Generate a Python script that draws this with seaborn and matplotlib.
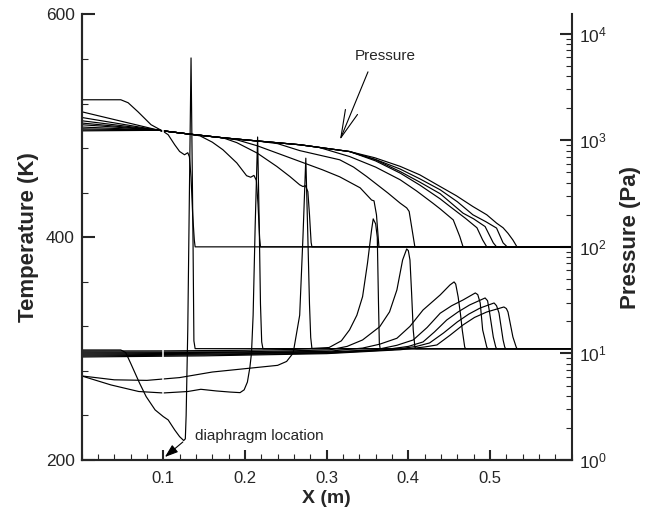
import matplotlib
matplotlib.use("Agg")
import matplotlib.pyplot as plt
import pandas as pd
import seaborn as sns
from matplotlib.ticker import (FixedLocator, MultipleLocator, LogLocator, NullFormatter,
                               LogFormatterSciNotation, FormatStrFormatter)

sns.set_style("ticks")
plt.rcParams["font.family"] = ["Liberation Sans", "DejaVu Sans"]
plt.rcParams["mathtext.fontset"] = "custom"
plt.rcParams["mathtext.rm"] = "Liberation Sans"
plt.rcParams["mathtext.it"] = "Liberation Sans:italic"
plt.rcParams["mathtext.bf"] = "Liberation Sans:bold"

# ---- temperature profiles, x in m, T in K (one per output time) ----
t1_x = [0.000, 0.048, 0.054, 0.060, 0.071, 0.079, 0.090, 0.100, 0.106, 0.114, 0.120, 0.125, 0.127, 0.128, 0.130, 0.132, 0.134, 0.1365, 0.1375, 0.139, 0.600]
t1_T = [298.8, 298.8, 296.5, 287.0, 269.0, 257.0, 245.0, 239.0, 236.0, 227.0, 221.0, 217.5, 219.0, 240.0, 317.0, 440.0, 561.0, 391.0, 307.0, 300.0, 300.0]

t2_x = [0.000, 0.036, 0.070, 0.100, 0.130, 0.146, 0.165, 0.182, 0.194, 0.199, 0.203, 0.206, 0.208, 0.210, 0.2125, 0.2155, 0.2175, 0.219, 0.2205, 0.222, 0.600]
t2_T = [275.5, 267.4, 261.5, 260.2, 261.5, 263.5, 262.0, 261.0, 260.5, 263.0, 270.0, 283.0, 296.0, 330.0, 410.0, 490.0, 410.0, 340.0, 306.0, 300.0, 300.0]

t3_x = [0.000, 0.040, 0.080, 0.120, 0.160, 0.200, 0.240, 0.251, 0.259, 0.267, 0.271, 0.2745, 0.277, 0.279, 0.2805, 0.282, 0.600]
t3_T = [275.5, 272.0, 271.5, 274.0, 279.0, 282.0, 285.0, 288.5, 296.0, 330.0, 400.0, 471.0, 400.0, 340.0, 310.0, 300.0, 300.0]

t4_x = [0.000, 0.100, 0.200, 0.260, 0.303, 0.318, 0.328, 0.337, 0.344, 0.350, 0.355, 0.357, 0.360, 0.362, 0.3635, 0.3645, 0.3655, 0.600]
t4_T = [297.9, 298.0, 298.5, 299.3, 301.0, 307.0, 316.8, 330.0, 346.7, 376.7, 406.6, 416.5, 412.0, 400.0, 340.0, 305.0, 300.0, 300.0]

t5_x = [0.000, 0.100, 0.200, 0.303, 0.325, 0.344, 0.365, 0.377, 0.386, 0.393, 0.398, 0.400, 0.402, 0.404, 0.406, 0.408, 0.409, 0.600]
t5_T = [297.0, 297.0, 297.2, 298.8, 302.0, 307.8, 319.7, 333.0, 352.7, 379.6, 389.5, 388.0, 379.6, 350.0, 316.8, 301.5, 300.0, 300.0]

t6_x = [0.000, 0.150, 0.300, 0.344, 0.365, 0.386, 0.402, 0.418, 0.439, 0.451, 0.456, 0.458, 0.461, 0.464, 0.466, 0.469, 0.470, 0.600]
t6_T = [296.1, 296.5, 297.5, 300.5, 304.0, 309.3, 320.0, 334.7, 348.2, 357.2, 359.9, 358.0, 346.4, 330.0, 316.8, 301.5, 300.0, 300.0]

t7_x = [0.000, 0.150, 0.300, 0.360, 0.386, 0.406, 0.423, 0.439, 0.453, 0.467, 0.482, 0.485, 0.488, 0.491, 0.496, 0.497, 0.600]
t7_T = [295.2, 295.8, 297.0, 299.0, 303.0, 307.8, 319.0, 331.8, 338.5, 343.7, 350.0, 348.5, 341.0, 316.8, 301.5, 300.0, 300.0]

t8_x = [0.000, 0.150, 0.300, 0.370, 0.400, 0.418, 0.432, 0.447, 0.461, 0.475, 0.494, 0.497, 0.499, 0.504, 0.507, 0.508, 0.600]
t8_T = [294.3, 295.0, 296.5, 299.0, 302.0, 306.0, 315.0, 325.7, 333.0, 339.2, 345.5, 343.0, 334.7, 310.5, 301.5, 300.0, 300.0]

t9_x = [0.000, 0.150, 0.300, 0.380, 0.410, 0.426, 0.443, 0.460, 0.474, 0.488, 0.505, 0.508, 0.511, 0.516, 0.518, 0.519, 0.600]
t9_T = [293.4, 294.3, 296.0, 299.0, 302.0, 305.1, 314.0, 324.0, 331.0, 336.5, 341.0, 338.5, 332.0, 307.8, 301.5, 300.0, 300.0]

t10_x = [0.000, 0.150, 0.300, 0.390, 0.420, 0.435, 0.451, 0.467, 0.481, 0.496, 0.517, 0.520, 0.522, 0.528, 0.532, 0.533, 0.600]
t10_T = [292.5, 293.5, 295.5, 299.0, 301.5, 303.3, 312.0, 321.3, 328.0, 332.9, 337.4, 336.0, 332.9, 310.5, 301.5, 300.0, 300.0]

# ---- pressure profiles, x in m, p in Pa (same output times) ----
p1_x = [0.000, 0.048, 0.057, 0.069, 0.085, 0.100, 0.106, 0.114, 0.120, 0.126, 0.130, 0.132, 0.134, 0.136, 0.138, 0.139, 0.600]
p1_p = [2399, 2399, 2249, 1852, 1400, 1211, 1127, 908, 785, 731, 764, 700, 450, 200, 116, 100, 100]

p2_x = [0.000, 0.095, 0.100, 0.133, 0.145, 0.160, 0.173, 0.190, 0.202, 0.207, 0.211, 0.214, 0.216, 0.218, 0.219, 0.600]
p2_p = [1852, 1240, 1225, 1140, 1100, 960, 815, 613, 465, 450, 468, 420, 250, 120, 100, 100]

p3_x = [0.000, 0.095, 0.100, 0.133, 0.173, 0.190, 0.215, 0.239, 0.255, 0.267, 0.271, 0.274, 0.277, 0.279, 0.281, 0.282, 0.600]
p3_p = [1637, 1240, 1225, 1140, 1055, 950, 758, 568, 457, 382, 368, 375, 330, 200, 110, 100, 100]

p4_x = [0.000, 0.095, 0.100, 0.133, 0.173, 0.190, 0.215, 0.255, 0.295, 0.316, 0.341, 0.355, 0.358, 0.361, 0.364, 0.600]
p4_p = [1525, 1240, 1225, 1140, 1055, 1010, 888, 685, 528, 454, 358, 275, 270, 200, 100, 100]

p5_x = [0.000, 0.095, 0.100, 0.133, 0.173, 0.215, 0.240, 0.267, 0.316, 0.333, 0.349, 0.375, 0.390, 0.398, 0.401, 0.404, 0.408, 0.600]
p5_p = [1452, 1240, 1225, 1140, 1055, 985, 930, 800, 656, 560, 457, 320, 257, 232, 215, 155, 100, 100]

p6_x = [0.000, 0.095, 0.100, 0.133, 0.173, 0.215, 0.267, 0.290, 0.328, 0.360, 0.390, 0.410, 0.430, 0.439, 0.455, 0.463, 0.467, 0.600]
p6_p = [1400, 1240, 1225, 1140, 1055, 985, 908, 860, 704, 560, 426, 335, 257, 227, 179, 125, 100, 100]

p7_x = [0.000, 0.095, 0.100, 0.133, 0.173, 0.215, 0.267, 0.328, 0.360, 0.390, 0.414, 0.439, 0.451, 0.470, 0.484, 0.491, 0.496, 0.600]
p7_p = [1331, 1240, 1225, 1140, 1055, 985, 908, 784, 640, 492, 380, 282, 239, 185, 151, 116, 100, 100]

p8_x = [0.000, 0.095, 0.100, 0.133, 0.173, 0.215, 0.267, 0.328, 0.360, 0.390, 0.414, 0.439, 0.467, 0.480, 0.494, 0.504, 0.508, 0.600]
p8_p = [1282, 1240, 1225, 1140, 1055, 985, 908, 784, 655, 509, 405, 315, 207, 183, 155, 109, 100, 100]

p9_x = [0.000, 0.095, 0.100, 0.133, 0.173, 0.215, 0.267, 0.328, 0.360, 0.390, 0.414, 0.439, 0.460, 0.479, 0.495, 0.508, 0.516, 0.521, 0.600]
p9_p = [1250, 1240, 1225, 1140, 1055, 985, 908, 784, 660, 537, 435, 343, 265, 200, 172, 150, 109, 100, 100]

p10_x = [0.000, 0.095, 0.100, 0.133, 0.173, 0.215, 0.267, 0.328, 0.359, 0.390, 0.414, 0.439, 0.459, 0.479, 0.496, 0.508, 0.516, 0.522, 0.528, 0.533, 0.600]
p10_p = [1225, 1240, 1225, 1140, 1055, 985, 908, 784, 685, 569, 474, 368, 301, 239, 200, 167, 151, 134, 116, 100, 100]

x_major = [0.1, 0.2, 0.3, 0.4, 0.5]
t_major = [200, 400, 600]
t_minor = [240, 280, 320, 360, 440, 480, 520, 560]
diaphragm_x = 0.1

temperature = [(t1_x, t1_T), (t2_x, t2_T), (t3_x, t3_T), (t4_x, t4_T), (t5_x, t5_T),
               (t6_x, t6_T), (t7_x, t7_T), (t8_x, t8_T), (t9_x, t9_T), (t10_x, t10_T)]
pressure = [(p1_x, p1_p), (p2_x, p2_p), (p3_x, p3_p), (p4_x, p4_p), (p5_x, p5_p),
            (p6_x, p6_p), (p7_x, p7_p), (p8_x, p8_p), (p9_x, p9_p), (p10_x, p10_p)]


def long_form(profiles, name):
    rows = []
    for k, (xs, vs) in enumerate(profiles, start=1):
        for xv, vv in zip(xs, vs):
            rows.append((k, xv, vv))
    return pd.DataFrame(rows, columns=["time", "x", name])


df_t = long_form(temperature, "T")
df_p = long_form(pressure, "p")

fig = plt.figure(figsize=(6.49, 5.16), dpi=100)
ax = fig.add_axes([0.1257, 0.1085, 0.7552, 0.8634])
ax2 = ax.twinx()

sns.lineplot(data=df_t, x="x", y="T", units="time", estimator=None, sort=False,
             color="black", linewidth=0.85, legend=False, ax=ax)
sns.lineplot(data=df_p, x="x", y="p", units="time", estimator=None, sort=False,
             color="black", linewidth=0.85, legend=False, ax=ax2)

ax.set_xlim(0, 0.6)
ax.set_ylim(200, 600)
ax2.set_yscale("log")
ax2.set_ylim(1, 10 ** 4.18)

# the two mesh blocks meet at the diaphragm: hairline break in the profiles
ax.vlines(diaphragm_x, 250, 302, color="white", lw=1.1, zorder=3)
ax2.vlines(diaphragm_x, 1150, 1320, color="white", lw=1.1, zorder=3)

for a in (ax, ax2):
    a.spines["top"].set_visible(False)
    for s in ("left", "right", "bottom"):
        a.spines[s].set_linewidth(1.5)
ax.spines["right"].set_visible(False)

ax.xaxis.set_major_locator(FixedLocator(x_major))
ax.xaxis.set_minor_locator(MultipleLocator(0.02))
ax.xaxis.set_major_formatter(FormatStrFormatter("%.1f"))
ax.yaxis.set_major_locator(FixedLocator(t_major))
ax.yaxis.set_minor_locator(FixedLocator(t_minor))
ax2.yaxis.set_major_locator(LogLocator(base=10, numticks=10))
ax2.yaxis.set_minor_locator(LogLocator(base=10, subs=range(2, 10), numticks=20))
ax2.yaxis.set_major_formatter(LogFormatterSciNotation())
ax2.yaxis.set_minor_formatter(NullFormatter())

ax.tick_params(axis="x", which="major", direction="in", length=7, width=1.5,
               labelsize=12, pad=8, top=False)
ax.tick_params(axis="x", which="minor", direction="in", length=4, width=0.8, top=False)
ax.tick_params(axis="y", which="major", direction="in", length=9, width=1.5,
               labelsize=12.5, pad=5, right=False)
ax.tick_params(axis="y", which="minor", direction="in", length=4.5, width=0.8, right=False)
ax2.tick_params(axis="y", which="major", direction="in", length=9, width=1.5,
                labelsize=12.5, pad=5, left=False)
ax2.tick_params(axis="y", which="minor", direction="in", length=4.5, width=0.8, left=False)

ax.set_xlabel("X (m)", fontsize=14, fontweight="bold", labelpad=3)
ax.set_ylabel("Temperature (K)", fontsize=16, fontweight="bold", labelpad=5)
ax2.set_ylabel("Pressure (Pa)", fontsize=16, fontweight="bold", labelpad=10)

# annotations
ax.text(0.372, 562.4, "Pressure", fontsize=11, ha="center", va="center")
ax.annotate("", xy=(0.3163, 487.4), xytext=(0.3506, 548.5),
            arrowprops=dict(arrowstyle="->,head_length=2.0,head_width=0.47",
                            color="black", lw=0.8, mutation_scale=10,
                            shrinkA=0, shrinkB=0))
ax.text(0.1388, 221.6, "diaphragm location", fontsize=11, ha="left", va="center")
ax.annotate("", xy=(0.102, 202.7), xytext=(0.124, 216.2),
            arrowprops=dict(arrowstyle="-|>,head_length=0.8,head_width=0.28",
                            color="black", lw=0.8, mutation_scale=10,
                            shrinkA=0, shrinkB=0))

fig.savefig("out.png", dpi=100)
